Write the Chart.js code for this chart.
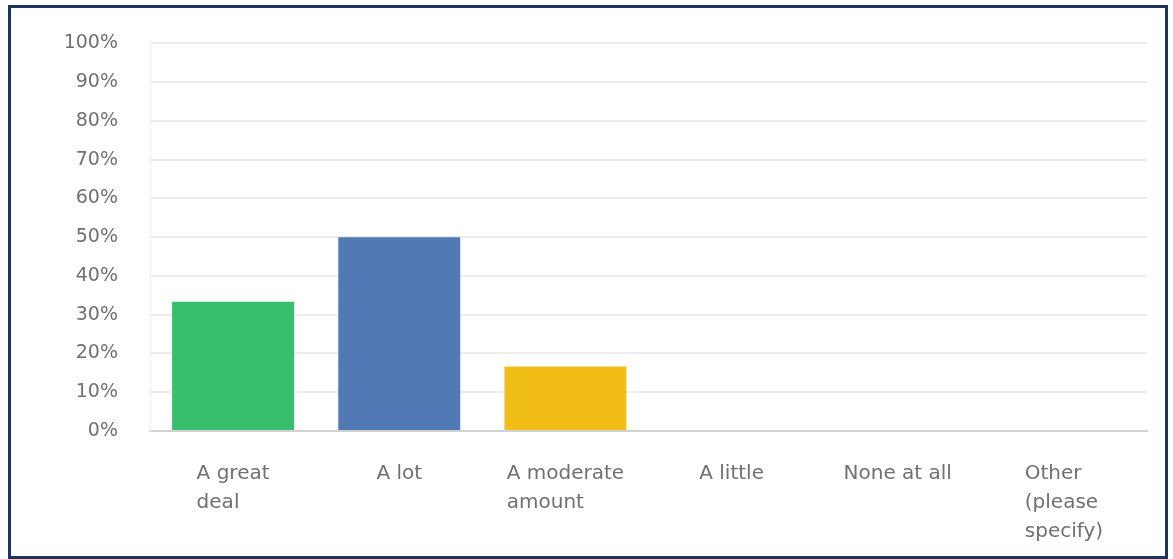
<!DOCTYPE html>
<html>
<head>
<meta charset="utf-8">
<script src="https://cdn.jsdelivr.net/npm/chart.js@4/dist/chart.umd.min.js"></script>
<style>
  html, body { margin: 0; padding: 0; background: #ffffff; width: 1173px; height: 559px; overflow: hidden; }
  #wrap { position: absolute; left: 0; top: 0; width: 1173px; height: 559px; }
  #frame { position: absolute; left: 8px; top: 5px; width: 1160px; height: 554px; box-sizing: border-box;
           border: 3px solid #1d3461; pointer-events: none; }
</style>
</head>
<body>
<div id="wrap"><canvas id="c" width="1173" height="559"></canvas></div>
<div id="frame"></div>
<script>
// ---- data ----
const categories = [
  ['A great', 'deal'],
  ['A lot'],
  ['A moderate', 'amount'],
  ['A little'],
  ['None at all'],
  ['Other', '(please', 'specify)']
];
const percentValues = [33.33, 50.0, 16.67, 0, 0, 0];
const barColors = ['#37bf6e', '#5079b6', '#f3bd18', '#8f8f8f', '#8f8f8f', '#8f8f8f'];
const yTickLabels = ['0%', '10%', '20%', '30%', '40%', '50%', '60%', '70%', '80%', '90%', '100%'];

const FONT = '"DejaVu Sans", sans-serif';
const TEXT_COLOR = '#707070';

const multiLineLabels = {
  id: 'multiLineLabels',
  afterDraw(chart) {
    const ctx = chart.ctx;
    const xs = chart.scales.x;
    ctx.save();
    ctx.font = '20px ' + FONT;
    ctx.fillStyle = TEXT_COLOR;
    ctx.textAlign = 'left';
    ctx.textBaseline = 'alphabetic';
    categories.forEach((lines, i) => {
      const cx = xs.getPixelForValue(i);
      let maxW = 0;
      lines.forEach(l => { maxW = Math.max(maxW, ctx.measureText(l).width); });
      const x0 = cx - maxW / 2;
      lines.forEach((l, j) => {
        ctx.fillText(l, x0, chart.chartArea.bottom + 48 + j * 29);
      });
    });
    ctx.restore();
  }
};

new Chart(document.getElementById('c'), {
  type: 'bar',
  data: {
    labels: categories.map(l => l.join(' ')),
    datasets: [{
      data: percentValues,
      backgroundColor: barColors,
      borderWidth: 0,
      categoryPercentage: 1.0,
      barPercentage: 0.734
    }]
  },
  options: {
    responsive: false,
    animation: false,
    devicePixelRatio: 1,
    layout: { padding: { left: 0, top: 42, right: 26, bottom: 128 } },
    plugins: { legend: { display: false }, tooltip: { enabled: false } },
    scales: {
      x: {
        grid: { display: false, drawTicks: false },
        border: { display: true, color: '#d2d2d2', width: 2 },
        ticks: { display: false },
        afterFit(scale) { scale.height = 0; }
      },
      y: {
        min: 0, max: 100,
        afterFit(scale) { scale.width = 150; },
        afterBuildTicks(scale) {
          scale.ticks = yTickLabels.map((t, i) => ({ value: i * 10 }));
        },
        ticks: {
          stepSize: 10,
          padding: 32,
          color: TEXT_COLOR,
          font: { family: FONT, size: 19 },
          callback: (v, i) => yTickLabels[i]
        },
        grid: {
          drawTicks: false,
          color: ctx => ctx.index === 0 ? '#d2d2d2' : '#ececec',
          lineWidth: 2
        },
        border: { display: true, color: '#f1f1f1', width: 1 }
      }
    }
  },
  plugins: [multiLineLabels]
});
</script>
</body>
</html>
